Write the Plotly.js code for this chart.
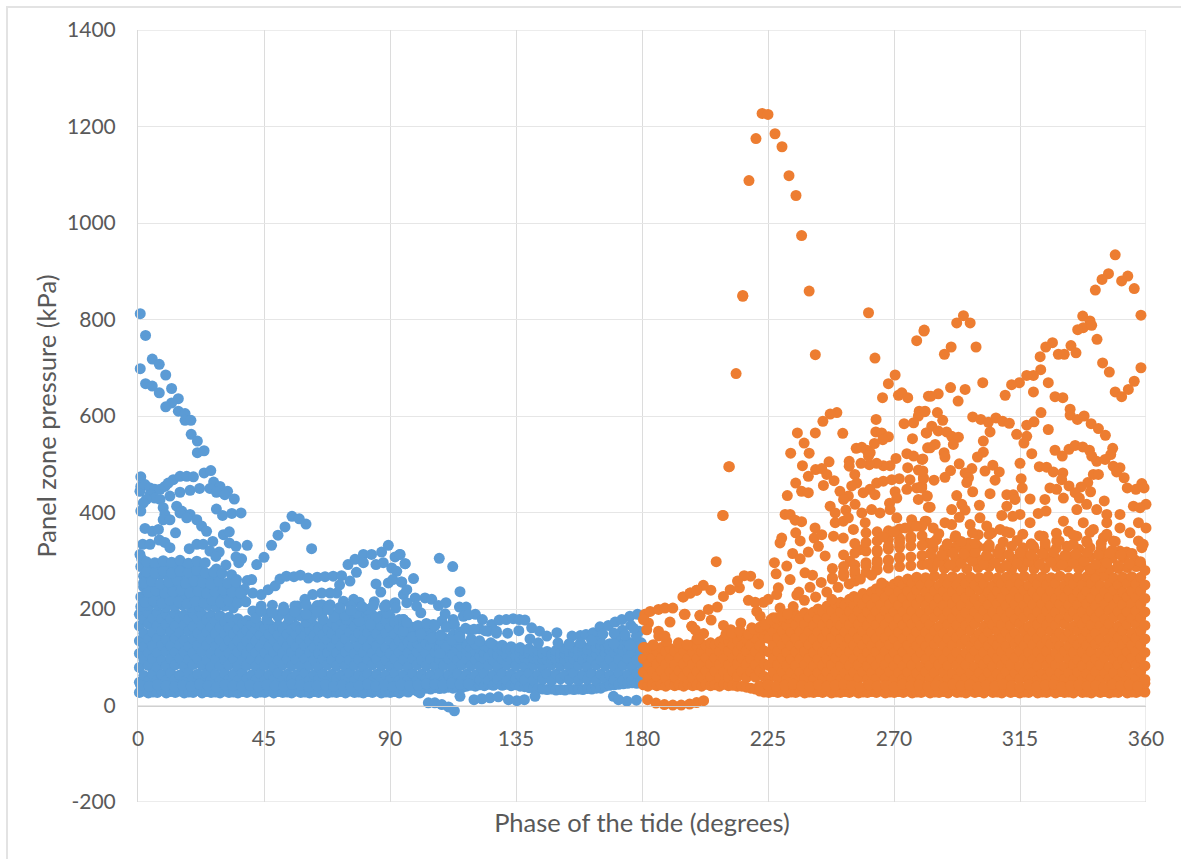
<!DOCTYPE html>
<html><head><meta charset="utf-8">
<script src="https://cdn.plot.ly/plotly-3.0.1.min.js"></script>
<style>
html,body{margin:0;padding:0;background:#fff;overflow:hidden}
#frame{position:absolute;left:6px;top:6px;width:1200px;height:900px;border:2px solid #e3e3e3;pointer-events:none;z-index:5}
#chart{position:absolute;left:0;top:0;width:1181px;height:859px}
</style></head><body>
<div id="chart"></div><div id="frame"></div>
<script>
const xTitle="Phase of the tide (degrees)";
const yTitle="Panel zone pressure (kPa)";
const xTicks=[0,45,90,135,180,225,270,315,360];
const yTicks=[-200,0,200,400,600,800,1000,1200,1400];

// dense band of the rising-tide series, column by column
const blueColX=[0.5,2.1,3.7,5.3,6.9,8.5,10.1,11.7,13.3,14.9,16.5,18.1,19.7,21.3,22.9,24.5,26.1,27.7,29.3,30.9,32.5,34.1,35.7,37.3,38.9,40.5,42.1,43.7,45.3,46.9,48.5,50.1,51.7,53.3,54.9,56.5,58.1,59.7,61.3,62.9,64.5,66.1,67.7,69.3,70.9,72.5,74.1,75.7,77.3,78.9,80.5,82.1,83.7,85.3,86.9,88.5,90.1,91.7,93.3,94.9,96.5,98.1,99.7,101.3,102.9,104.5,106.1,107.7,109.3,110.9,112.5,114.1,115.7,117.3,118.9,120.5,122.1,123.7,125.3,126.9,128.5,130.1,131.7,133.3,134.9,136.5,138.1,139.7,141.3,142.9,144.5,146.1,147.7,149.3,150.9,152.5,154.1,155.7,157.3,158.9,160.5,162.1,163.7,165.3,166.9,168.5,170.1,171.7,173.3,174.9,176.5,178.1,179.7];
const blueColY=[
[27,48,79,108,134,165,189],[30,62,95,121,150,178],[26,51,83,110,138,169,192],[28,66,97,124,152,181],[27,53,80,109,139,166,193],[31,64,94,125,155,180],[26,52,82,112,137,168,190],[29,67,96,123,153,179],[27,54,84,110,140,165,191],[30,63,98,126,151,182],[26,50,81,111,136,167,188],[28,68,95,122,154,178],[27,55,85,109,138,164,192],[31,65,97,124,150,180],[26,52,83,112,139,166,189],[29,66,94,125,152,177],[27,53,80,108,137,163,187],[28,64,96,123,149,175],[26,51,82,110,136,162,186],[30,67,95,122,150,174],[27,54,84,109,135,161,183],[28,65,97,124,148,172],[26,52,81,111,134,158,180],[29,66,94,121,147,170],[27,55,83,108,133,156,176],[30,63,96,120,146,167],
[26,53,81,110,134,158,172],[28,66,95,122,147,165],[27,52,83,109,135,160],[30,64,97,124,148,168],[26,54,80,111,136,158],[29,67,94,121,146,166],[27,51,84,108,134,160],[28,65,96,123,148,168],[26,55,82,110,135,157],[30,63,95,122,147,165],[27,53,81,109,136,158],[28,67,97,124,146,164],[26,52,83,111,134,156],[29,64,94,120,145,166],[27,54,80,108,135,158],[30,66,96,123,147,168],[26,51,84,110,136,160],[28,65,95,122,149,172],[27,55,82,109,137,164],[29,63,97,124,150,175],[26,53,81,111,138,166,182],[30,67,94,121,152,176],[27,52,83,108,139,165,186],[28,64,96,123,150,178],[26,54,80,110,137,164,187],[29,66,95,122,151,176],[27,51,84,109,136,163,188],[30,65,97,124,149,178],[26,55,82,111,138,165,186],[28,63,94,120,150,175],[27,53,81,108,135,162,184],[29,67,96,123,148,172],[26,52,83,110,134,158,178],[30,64,95,122,146,168],
[28,54,80,109,132,156],[33,66,97,124,144,162],[30,51,84,111,130,152],[35,65,94,120,141,158],[36,55,82,108,128,148],[34,63,96,123,138,152],[37,53,81,110,127,142],[35,67,95,120,136],[36,52,83,107,126,140],[38,64,97,118,132],[36,54,80,105,124,142],[38,66,94,116,130],[37,51,84,106,122],[40,65,96,114,128],[42,55,82,104,120],[40,63,95,112,126],[43,53,81,103,118],[41,67,97,110,124],[44,52,83,102,120],[42,64,94,112,126],[45,54,80,104,121],[42,66,96,114,125],[44,51,84,103,118],[41,65,95,112,122],[43,55,82,102,116],[40,63,97,110,120],[39,53,81,100,114],[37,67,94,108,118],[36,52,83,98,112],[35,64,96,106,114],[34,54,80,97,108],[33,66,95,104,112],[34,51,84,96,106],[32,65,97,106,114],[33,55,82,98,108],[32,63,94,108,118],[34,53,81,100,112],[33,67,96,110,120],[34,52,83,102,114],[33,64,95,110,122],[35,54,80,104,116],[34,66,97,112,124],[36,51,84,106,120],[36,65,94,114,126],[40,55,82,108,122],[42,63,96,116,128],[43,53,81,110,124],[44,67,95,118,130],[45,52,83,112,126],[46,64,97,118,132],[47,54,80,110,128],[46,66,94,120,134],[48,51,84,112,130]];

// scattered points of the rising-tide series
const blueX=[0.8,2.7,5.1,7.6,9.9,0.8,2.7,5.1,7.6,12,14.4,12,9.9,14.4,16.8,16.8,18.9,19,21.2,21.2,23.6,
1,12.6,15,17.4,19.8,23.6,26,27,29.3,32,34.4,28,30.2,33.5,36.8,11.4,15,18.6,22,25.7,28,31,1,0.7,2.5,4.3,6,7.9,9.6,10.8,4.3,6,3,1.9,1,7.9,9,13.8,15.6,18.6,21,22.7,24.5,26.7,9.6,9,11.4,15,17.4,2.5,5.1,7.3,13.4,30.5,32.6,32.6,35,39,18.3,21,23.3,25.7,29,27.8,1.7,4.3,7.6,9.6,11.4,0.7,1.3,35,37,36,31.4,28,33.4,35.2,39,40.6,42.4,45,47.7,50,52.5,55,57.6,60,62,
41,37.6,44,46.5,49,50.7,53,55.7,58,60.8,64,66.8,69.7,72.7,75.7,75,77.5,80.5,83.4,87,89.4,91.8,93.5,95.4,85,80.5,78,87.6,90.6,92.4,89.4,91,94,85,86.7,94.8,84.4,82,79,77,76,73.4,72,71,68.6,65.6,62.4,59.6,57,55,62.6,65.6,68.6,88.6,91.8,94.8,88.8,85,79,83,74.5,60,65.6,70,73,
93.6,95.4,107.6,112.4,98.4,94.2,96,115,102.5,104.9,107.3,110,114.8,117.2,120.5,109.7,101,99,96,99.5,94.8,123,126.3,129,131.5,134,136.2,138.2,140.6,143.4,146,149.6,155,158,160,162.6,165,168,170.4,172.8,175.7,178.4,176,173,170.7,179,178,175.7,168,170,165,120.4,110,107.6,107.8,100.7,115,103.7,106,108.5,110.9,113,120,122.8,125.7,128.7,132.3,135.3,138,141.8,169.8,171.6,174.6,178,
102.5,105.5,108.5,112.6,116.2,118,112,112.6,115,118.6,122,125,128,114.4,97,94.8,
1,4,7,10,13,16,19,22,25,28,31,34,1,4,7,10,13,16,19,22,25,28,31,34,37,2,5,8,11,14,17,20,23,26,29,32,35,38,2,5,8,11,14,17,20,23,26,29,1,4,7,10,13,16,19,22,41,44,47,50,53,56,59,44,48,52,56,60,64,68,72,76,80,84,88,92];
const blueY=[812,767,718,707,685,698,667,662,648,657,636,627,619,610,605,591,591,562,548,524,528,
474,468,475,475,474,482,487,463,454,444,428,407,394,398,399,434,442,446,450,450,442,437,454,444,458,451,448,448,454,461,437,430,427,420,403,427,410,413,403,396,385,372,361,340,396,385,385,399,389,367,361,365,358,354,360,337,330,332,325,334,334,320,318,309,334,334,343,338,327,313,304,308,304,296,291,283,271,261,259,261,292,307,332,353,370,392,387,376,325,
233,237,230,240,248,262,268,267,270,264,266,267,268,269,258,292,303,313,313,318,332,308,313,294,292,296,276,296,285,278,254,261,256,252,235,230,215,199,214,220,199,216,250,233,233,233,230,220,206,192,199,209,209,209,213,178,192,181,175,168,178,173,188,188,188,
313,294,305,288,263,256,240,236,223,220,207,213,204,204,189,190,192,223,213,206,178,178,168,177,178,180,178,177,161,154,144,151,144,145,147,151,163,166,173,178,185,189,166,156,145,154,144,125,126,128,137,128,124,137,108,26,19,5.5,5.5,2,-3,-11,12,14,16,18,12,10,12,19,19,12,9,11,
164,168,175,178,185,188,168,147,152,156,159,154,154,137,157,154,
205,207,209,204,206,208,203,205,207,204,206,202,225,226,228,224,227,225,229,226,224,226,223,225,222,246,247,245,248,244,246,243,247,245,242,244,246,241,268,266,270,267,265,269,264,268,266,263,288,291,287,290,286,289,285,288,196,195,192,188,190,186,188,206,208,204,206,209,207,205,203,206,204,207,205,202];

// further rising-tide points: low row and the loose cloud above the band
const blueMoreX=[1,4,7,10,13,16,19,22,25,28,31,34,37,40,43,46,49,52,55,58,61,64,67,70,73,76,79,82,85,88,91,94,97,100,103,106,109,112,115,118,
2.5,5.5,8.5,11.5,14.5,17.5,20.5,23.5,26.5,29.5,32.5,35.5,38.5,3.5,6.5,9.5,12.5,15.5,18.5,21.5,24.5,27.5,30.5,33.5,36.5,2,5,8,11,14,17,20,23,26,29,32,35,3,6,9,12,15,18,21,24,27,30,3,6,9,12,15,18,21,24,
42,46,50,54,58,62,66,70,74,78,44,48,52,56,60,64,68,72,76,80,96,100,103,106,110,113,117,120,124,128,98,101,105,108,112,115,119,122,126,
132,136,140,143,150,154,158,162,166,170,174,177];
const blueMoreY=[42,40,43,41,39,42,40,44,41,38,43,41,40,42,39,43,41,40,44,42,39,41,43,40,42,38,41,44,40,42,39,43,41,42,45,44,43,46,44,45,
214,217,212,218,215,211,216,213,218,214,217,212,215,235,238,233,236,239,234,237,232,236,239,235,233,254,257,252,256,259,253,258,255,252,257,254,256,277,275,279,274,278,276,280,275,277,274,298,296,300,297,301,295,299,296,
181,178,184,180,186,182,179,183,187,192,196,192,198,194,189,195,199,202,197,205,172,166,170,165,162,168,160,158,155,150,142,148,140,146,136,142,138,134,130,
150,155,138,130,130,128,130,135,148,150,146,160];

// dense band of the falling-tide series, column by column
const orangeColX=[180.5,182.1,183.7,185.3,186.9,188.5,190.1,191.7,193.3,194.9,
196.5,198.1,199.7,201.3,202.9,204.5,206.1,207.7,209.3,210.9,
212.5,214.1,215.7,217.3,218.9,220.5,222.1,223.7,225.3,226.9,
228.5,230.1,231.7,233.3,234.9,236.5,238.1,239.7,241.3,242.9,
244.5,246.1,247.7,249.3,250.9,252.5,254.1,255.7,257.3,258.9,
260.5,262.1,263.7,265.3,266.9,268.5,270.1,271.7,273.3,274.9,
276.5,278.1,279.7,281.3,282.9,284.5,286.1,287.7,289.3,290.9,
292.5,294.1,295.7,297.3,298.9,300.5,302.1,303.7,305.3,306.9,
308.5,310.1,311.7,313.3,314.9,316.5,318.1,319.7,321.3,322.9,
324.5,326.1,327.7,329.3,330.9,332.5,334.1,335.7,337.3,338.9,
340.5,342.1,343.7,345.3,346.9,348.5,350.1,351.7,353.3,354.9,
356.5,358.1,359.6];
const orangeColY=[
[43,69,97,120],[40,58,84,112],[44,71,99,118],[41,60,86,113],[43,72,98,120],[40,58,85,112],[44,70,97,118],[41,59,84,112],[43,72,99,120],[40,60,86,114],
[44,71,98,122],[41,58,85,112,126],[43,70,97,124],[40,59,84,112,128],[44,72,99,124],[41,60,86,113,130],[43,71,98,125],[40,58,85,112,132],[44,70,97,124,138],[41,59,84,113,134],
[42,72,99,125,142],[40,60,86,112,136],[40,71,98,124,146],[38,58,85,113,138],[36,70,97,125,150],[34,59,84,112,140],[30,72,99,124,152],[28,60,86,113,140,158],[27,55,83,111,139,165],[29,69,97,125,153,172],
[27,56,84,112,140,168],[30,70,98,126,154,176],[26,54,82,110,138,166,182],[28,68,96,124,152,180],[27,55,83,111,139,167,188],[30,69,97,125,153,181],[26,56,84,112,140,168,192],[28,70,98,126,154,182],[27,54,82,110,138,166,194],[29,68,96,124,152,180,200],
[27,55,83,111,139,167,195],[30,69,97,125,153,181,206],[26,56,84,112,140,168,196],[28,70,98,126,154,182,210],[27,54,82,110,138,166,194,214],[29,68,96,124,152,180,208],[27,55,83,111,139,167,195,220],[30,69,97,125,153,181,209,226],[26,56,84,112,140,168,196,220],[28,70,98,126,154,182,210,232],
[27,54,82,110,138,166,194,222],[29,68,96,124,152,180,208,236],[27,55,83,111,139,167,195,223,242],[30,69,97,125,153,181,209,237],[26,56,84,112,140,168,196,224,248],[28,70,98,126,154,182,210,238],[27,54,82,110,138,166,194,222,252],[29,68,96,124,152,180,208,236,258],[27,55,83,111,139,167,195,223,251],[30,69,97,125,153,181,209,237,262],
[26,53,84,112,139,169,196,225,254],[28,67,99,124,153,181,211,239,266],[27,55,81,110,136,166,193,221,250],[30,70,96,123,152,179,207,235,265],[26,56,83,113,140,168,197,224,252],[28,68,97,127,155,183,209,238,268],[27,52,85,109,138,164,195,222,249],[29,69,95,124,150,181,208,237,264],[26,55,82,112,139,168,194,225,252],[31,66,98,125,153,180,211,236,267],
[27,54,83,110,141,167,196,223,250],[28,70,96,127,152,182,207,238,264],[26,56,84,109,137,166,193,224,253],[30,67,99,123,155,179,210,236,266],[27,53,81,113,138,169,195,221,250],[29,68,97,126,150,183,208,239,265],[26,55,85,110,140,164,197,222,252],[31,69,95,124,153,181,209,235,268],[27,52,82,111,136,168,194,225,249],[28,66,98,125,154,180,211,237,264],
[26,56,83,112,139,167,196,223,253],[30,70,96,123,152,182,207,238,266],[27,54,84,109,141,166,193,221,250],[29,67,99,127,150,179,210,236,265],[26,55,81,113,137,169,197,224,252],[28,68,97,124,155,183,208,239,268],[27,53,85,110,138,164,195,222,249],[31,69,95,126,153,181,209,235,264],[26,52,82,111,140,168,194,225,252],[28,66,98,125,152,180,211,237,267],
[27,56,83,112,136,167,196,223,250],[30,70,96,127,154,182,207,238,265],[26,54,84,109,139,166,193,221,253],[29,67,99,123,150,179,210,236,268],[27,55,81,113,141,169,197,224,249],[28,68,97,124,152,183,208,239,264],[26,53,85,110,137,164,195,222,252],[31,69,95,126,155,181,209,235,266],[27,52,82,111,138,168,194,225,250],[28,66,98,125,153,180,211,237,267],
[26,56,83,112,140,167,196,223,253,278],[30,70,96,127,150,182,207,238,265],[27,54,84,109,136,166,193,221,249,280],[29,67,99,123,154,179,210,236,268],[26,55,81,113,139,169,197,224,252,282],[28,68,97,124,152,183,208,239,264],[27,53,85,110,141,164,195,222,250,284],[31,69,95,126,155,181,209,235,266],[26,52,82,111,137,168,194,225,253,286],[28,66,98,125,150,180,211,237,267],
[27,42,56,84,112,140,168,196,224,252,288],[30,44,70,98,126,154,182,210,238,266,292],[28,46,54,82,110,138,166,194,222,250,280]];

// scattered points of the falling-tide series
const orangeX=[209,211,213.6,216,218.2,220.7,222.9,225,227.5,230,232.5,235,237,239.7,241.9,
216,260.9,263.2,280.7,278.1,270.4,268,265.9,271.6,272.8,274.9,211.2,208.8,206.5,
282.3,281,279,278.7,277,273.6,263.6,263.5,265.6,268,266,263,281.5,276.6,282,274.6,277,280,270.7,268.6,266.2,263.8,261.2,258.2,256.5,258.5,260.3,261.5,260.9,254,254,246.8,249.6,247.2,244.6,235.5,241.9,251.7,237.9,233.1,239.7,237.3,239.4,242,244.2,246,248.6,244.8,234.9,237,239.4,231.9,250.7,253.7,252,256,256.7,254.9,261.4,263.8,266.2,269.2,271.9,275.7,278.7,274.9,280.5,270.4,274.6,278.1,279.9,281.7,278.7,268.4,282.3,263.2,259,247.2,256.1,271,231.1,232.9,234.7,237,249,252.8,249,251.9,253.7,258.5,262,265,268.6,271,276.3,281.5,
241.8,234.9,229.9,229.3,236.5,241.5,244.2,248.4,251.9,255.5,259.7,239.4,243,233.8,227.3,227.9,231.7,232.9,236.5,238.2,240.9,245.4,254.3,257.9,263.8,265.6,256.1,228.7,235.3,228.1,225.1,223.4,229.3,247.8,221.6,218.8,216.5,214.8,214.1,211.5,209.1,206.9,203.7,200.7,204.6,201.9,199.6,197.2,194.8,195.1,204.7,197.8,209.1,211.7,215.3,218,220.4,221,222.2,223.4,219.2,226.9,202,199.6,
349,346.6,344.3,341.9,353.5,351.3,355.8,358.2,337.4,340,337.6,335.6,340.6,342.5,294.8,292.4,297.2,280.8,290.4,288,299.3,326.6,324.2,322.2,328.7,330.8,333.2,335,322.4,319.8,317.4,314.8,312,309.7,301.7,295.4,290.2,292.9,285.8,283.2,344.5,346.9,349,351.3,353.7,355.8,358.2,325.1,319.8,327.5,330.3,322.5,320,317.4,325.1,313.8,317.4,316.4,319.2,332.9,332.9,335.5,337.9,340.4,343,345.5,327.5,330.1,332.5,334.7,337.4,339.8,348.1,347.4,342.4,345.4,340.6,321.9,324.5,326.9,330.3,329.9,332.5,325.7,328.1,341.2,343,339.2,336.8,340.2,348.3,350.7,349.5,352.2,353.3,356.4,358.5,359.3,345.1,334.7,336.2,323.9,330.5,318.6,315,315.4,315.8,310.3,312.6,313.2,310.3,315,312.4,308.5,321.5,324.3,
298.1,301,303.7,306.4,308.8,311.2,304.3,301.9,301.9,299.8,302.5,305.3,307.6,306.1,297.8,295.4,296.6,296,293.3,290.2,288.2,284.3,298.1,304.3,300.5,292.4,294.2,290.6,295.4,282.9,281.9,279.9,281.1,285.5,287.4,283.5,281.7,285.8,288.8,290.6,293,291.2,284.7,282.9,287.9,288.2,280.3,280.5,280.3,
300.7,293.3,288.2,290.6,297.2,303.1,281.1,284,291.8,296.6,300.1,304.9,307.9,311.4,316.2,319.8,323.3,318.6,328.1,331.7,327.5,330.3,334,332.3,335.3,338.8,343.6,347.7,350.7,353.1,337.6,340,337.6,341.2,344.8,348.3,335.3,338.8,342.4,346,350.7,355.5,360,357.9,354.3,357.3,360,357.3,359,358.5,350.7,346,330.5,292.4,288.2,295.4,285.2,281.7,307.9,303.1,298.9,321,312.6,
182,185,188,191,194,197,199.5,202,181,182.9,185.9,188.2,191,195.4,190,182.3,185.9,197.8,199,194.6,197.2,199.5,200.7,181,184,188.8,193,196,200,181.7,180.5,186,188.2,
248,252,256,260,264,268,272,276,280,248,252,256,260,264,268,272,276,280,252,256,260,264,268,272,276,280,256,260,264,268,272,276,280,260,264,268,272,276,280,284,288,292,296,300,304,308,312,316,320,324,328,332,336,340,344,284,288,292,296,300,304,308,312,316,320,324,328,332,336,340,344,348,352,356,284,288,292,296,300,304,308,312,316,320,324,328,332,336,340,344,348];
const orangeY=[394,495,688,850,1088,1175,1227,1225,1185,1158,1098,1057,974,859,727,
848,814,720,776,756,685,667,638,643,648,638,495,394,298,
641,609,610,600,586,584,593,567,565,557,551,543,565,553,534,522,517,510,512,497,497,502,499,502,533,535,529,524,517,506,496,505,607,604,589,565,565,564,544,523,523,497,475,489,491,479,466,456,461,444,441,435,444,434,427,479,461,455,448,461,465,468,470,468,488,493,470,443,448,451,455,434,427,419,411,437,441,413,417,430,396,396,384,381,399,405,379,382,389,399,406,399,406,389,385,382,
368,358,347,337,341,347,354,351,347,365,379,318,330,315,296,273,289,261,304,275,270,310,299,323,283,254,258,244,229,230,220,214,202,220,252,268,269,244,258,240,226,204,199,186,239,249,239,233,225,189,177,164,166,157,171,218,214,195,185,168,161,182,149,138,
934,895,883,861,890,880,864,809,807,797,783,779,788,759,808,793,793,778,743,728,743,752,743,723,728,728,746,731,696,684,684,669,665,643,669,655,659,631,646,641,710,691,650,640,655,672,700,669,650,640,638,607,588,581,572,562,558,544,522,614,602,593,600,584,574,560,529,517,531,539,536,529,533,520,506,510,517,495,494,484,482,468,455,451,448,479,479,462,453,443,496,493,484,472,451,448,460,451,424,441,430,427,430,428,502,470,451,437,437,427,413,396,392,394,398,403,
598,593,587,596,589,585,567,548,525,515,486,498,484,467,491,482,472,462,501,487,473,467,443,439,415,435,417,406,405,411,434,451,610,607,591,579,565,569,567,558,556,541,541,534,524,515,511,472,486,
389,390,379,375,375,372,382,368,348,337,354,358,365,358,323,330,351,379,341,330,306,301,310,361,351,341,316,306,320,318,292,285,379,365,348,341,406,417,406,396,396,413,417,410,358,379,368,341,334,327,368,379,382,327,313,310,344,337,320,327,320,296,303,
12,5,2,1,1,3,6,10,189,195,199,202,202,189,173,171,154,164,157,225,233,239,187,120,126,133,130,126,137,157,178,144,144,
262,268,272,276,281,285,288,290,292,284,288,291,296,300,302,305,308,311,312,316,320,322,324,328,331,332,336,338,341,344,346,350,352,358,360,362,366,370,372,285,284,287,283,286,288,284,282,286,283,285,288,287,284,282,286,304,302,306,308,303,305,307,302,306,304,309,303,307,305,308,304,306,305,302,326,324,328,325,329,327,326,330,327,325,328,326,329,324,327,325,322];

// further falling-tide points: low row and the loose cloud above the band
const orangeMoreX=[222,225,228,231,234,237,240,243,246,249,252,255,258,261,264,267,270,273,276,279,282,285,288,291,294,297,300,303,306,309,312,315,318,321,324,327,330,333,336,339,342,345,348,351,354,357,
282,286,290,294,298,302,306,310,314,318,322,326,330,334,338,342,346,350,354,358,283,287,291,295,299,303,307,311,315,319,323,327,331,335,339,343,347,351,355,284,289,294,299,304,309,314,319,324,329,334,339,344,349,286,292,298,304,310,316,322,328,334,340,346,
234,238,242,246,250,254,258,262,236,240,244,248,252,256,260,264,268,272,264,268,272,276,266,270,274,278,
210,212,215,218,220,222,224,226,228,230,232];
const orangeMoreY=[41,43,40,42,44,41,39,43,40,42,44,41,38,43,40,42,39,44,41,43,40,42,38,44,41,43,39,42,40,44,41,38,43,40,42,44,39,41,43,40,42,38,44,41,43,40,
293,297,291,295,299,292,296,290,294,298,293,297,291,295,299,292,296,290,294,298,315,312,317,314,318,311,316,313,317,312,315,318,311,314,317,313,316,312,315,338,335,340,336,333,339,342,335,337,341,334,338,336,340,356,352,358,354,360,355,352,357,353,359,355,
205,218,225,235,245,252,262,270,235,245,255,265,275,280,290,295,300,308,318,330,338,345,350,360,368,372,
148,150,155,148,158,162,168,178,182,185,190];

const blueAllX=[],blueAllY=[];
blueColX.forEach((x,i)=>(blueColY[i]||[]).forEach(y=>{blueAllX.push(x);blueAllY.push(y);}));
blueAllX.push(...blueX,...blueMoreX);blueAllY.push(...blueY,...blueMoreY);
const orangeAllX=[],orangeAllY=[];
orangeColX.forEach((x,i)=>(orangeColY[i]||[]).forEach(y=>{orangeAllX.push(x);orangeAllY.push(y);}));
orangeAllX.push(...orangeX,...orangeMoreX);orangeAllY.push(...orangeY,...orangeMoreY);

const tickFont={family:'Lato, "Open Sans", sans-serif',size:21,color:'#595959'};
const titleFont={family:'Lato, "Open Sans", sans-serif',size:25.5,color:'#595959'};
Plotly.newPlot('chart',[
 {type:'scatter',mode:'markers',x:blueAllX,y:blueAllY,cliponaxis:false,hoverinfo:'x+y',
  marker:{color:'#5B9BD5',size:11,line:{width:0}}},
 {type:'scatter',mode:'markers',x:orangeAllX,y:orangeAllY,cliponaxis:false,hoverinfo:'x+y',
  marker:{color:'#ED7D31',size:11,line:{width:0}}}
],{
 width:1181,height:859,showlegend:false,paper_bgcolor:'#fff',plot_bgcolor:'#fff',
 margin:{l:138,r:35,t:30,b:57,pad:0},
 xaxis:{range:[0,360],tickvals:xTicks,ticktext:xTicks.map(String),tickmode:'array',
  anchor:'free',position:0.125,showgrid:true,gridcolor:'#dcdcdc',gridwidth:1,zeroline:false,
  showline:true,linecolor:'#d0d0d0',linewidth:1,ticks:'outside',ticklen:14,tickcolor:'rgba(0,0,0,0)',
  tickfont:tickFont,title:{text:xTitle,font:titleFont,standoff:65},automargin:false},
 yaxis:{range:[-200,1400],tickvals:yTicks,ticktext:yTicks.map(String),tickmode:'array',
  showgrid:true,gridcolor:'#e6e6e6',gridwidth:1,zeroline:false,
  showline:true,linecolor:'#d9d9d9',linewidth:1,ticks:'outside',ticklen:17,tickcolor:'rgba(0,0,0,0)',
  tickfont:tickFont,title:{text:yTitle,font:titleFont,standoff:3},automargin:false},
 shapes:[
  {type:'line',xref:'x',yref:'y',x0:360,x1:360,y0:-200,y1:1400,line:{color:'#d9d9d9',width:1},layer:'below'},
  {type:'line',xref:'x',yref:'y',x0:0,x1:360,y0:1400,y1:1400,line:{color:'#d9d9d9',width:1},layer:'below'},
  {type:'line',xref:'x',yref:'y',x0:0,x1:360,y0:-200,y1:-200,line:{color:'#d9d9d9',width:1},layer:'below'}
 ]
},{displayModeBar:false});
</script></body></html>
